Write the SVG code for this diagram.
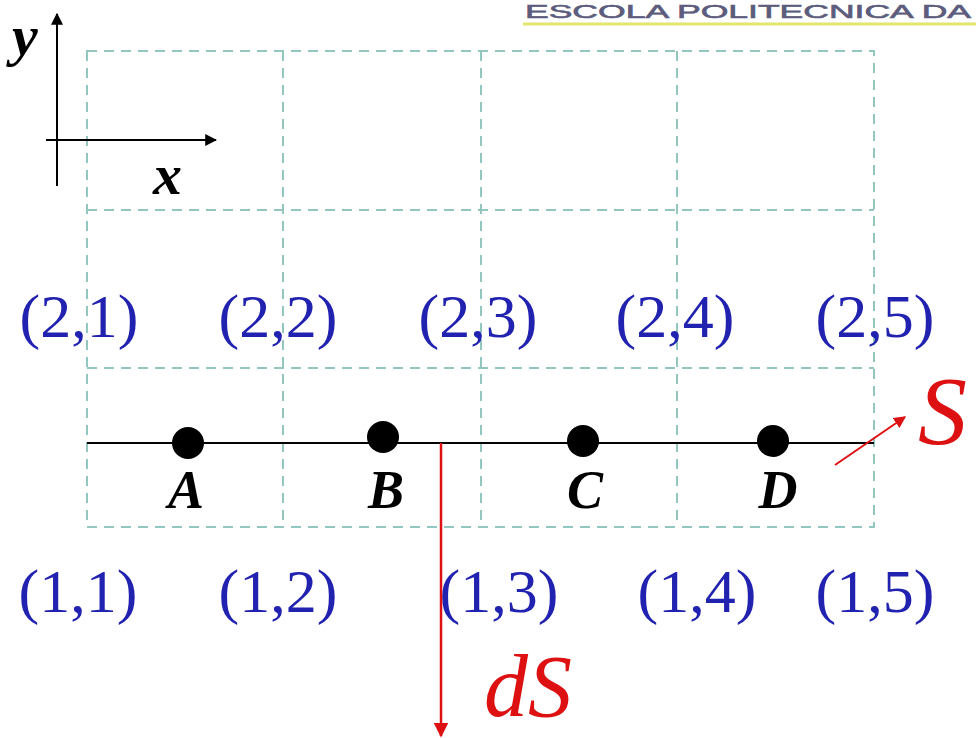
<svg xmlns="http://www.w3.org/2000/svg" width="976" height="738" viewBox="0 0 976 738">
<style>
.grid{stroke:#94c6c0;stroke-width:2;stroke-dasharray:10,7;fill:none}
.idx{font-family:"Liberation Serif","DejaVu Serif",serif;font-size:62px;fill:#2222b0;text-anchor:middle}
.pt{font-family:"Liberation Serif","DejaVu Serif",serif;font-size:54px;font-style:italic;font-weight:bold;fill:#000;text-anchor:middle}
.ax{font-family:"Liberation Serif","DejaVu Serif",serif;font-size:58px;font-style:italic;font-weight:bold;fill:#000}
.red{font-family:"Liberation Serif","DejaVu Serif",serif;font-style:italic;fill:#dd1111}
</style>
<defs>
<marker id="ak" viewBox="0 0 10 10" refX="9" refY="5" markerWidth="6" markerHeight="6" markerUnits="strokeWidth" orient="auto"><path d="M0,0 L10,5 L0,10 z" fill="#000"/></marker>
<marker id="ar" viewBox="0 0 10 10" refX="9" refY="5" markerWidth="6" markerHeight="6" markerUnits="strokeWidth" orient="auto"><path d="M0,0 L10,5 L0,10 z" fill="#dd1111"/></marker>
</defs>
<rect width="976" height="738" fill="#fff"/>
<g id="header">
<text x="525" y="18" font-family="'Liberation Sans','DejaVu Sans',sans-serif" font-size="19" fill="#5c5c7c" stroke="#5c5c7c" stroke-width="0.6" textLength="446" lengthAdjust="spacingAndGlyphs">ESCOLA POLITECNICA DA</text>
<line x1="523" y1="24" x2="976" y2="24" stroke="#e2e66c" stroke-width="3"/>
</g>
<g id="grid">
<rect class="grid" x="87" y="51" width="787" height="476"/>
<line class="grid" x1="283" y1="51" x2="283" y2="527"/>
<line class="grid" x1="481" y1="51" x2="481" y2="527"/>
<line class="grid" x1="677" y1="51" x2="677" y2="527"/>
<line class="grid" x1="87" y1="210" x2="874" y2="210"/>
<line class="grid" x1="87" y1="368" x2="874" y2="368"/>
</g>
<g id="axes">
<line x1="57" y1="186" x2="57" y2="14" stroke="#000" stroke-width="2" marker-end="url(#ak)"/>
<line x1="46" y1="140" x2="216" y2="140" stroke="#000" stroke-width="2" marker-end="url(#ak)"/>
<text class="ax" x="12" y="55">y</text>
<text class="ax" x="153" y="194">x</text>
</g>
<g id="line">
<line x1="87" y1="443" x2="874" y2="443" stroke="#000" stroke-width="2"/>
</g>
<g id="A"><circle cx="188" cy="443" r="16" fill="#000"/><text class="pt" x="186" y="508">A</text></g>
<g id="B"><circle cx="383" cy="437" r="16" fill="#000"/><text class="pt" x="386" y="508">B</text></g>
<g id="C"><circle cx="583" cy="441" r="16" fill="#000"/><text class="pt" x="585" y="508">C</text></g>
<g id="D"><circle cx="773" cy="441" r="16" fill="#000"/><text class="pt" x="778" y="508">D</text></g>
<g id="indices">
<text class="idx" x="79" y="337">(2,1)</text>
<text class="idx" x="278" y="337">(2,2)</text>
<text class="idx" x="478" y="337">(2,3)</text>
<text class="idx" x="675" y="337">(2,4)</text>
<text class="idx" x="875" y="337">(2,5)</text>
<text class="idx" x="78" y="612">(1,1)</text>
<text class="idx" x="278" y="612">(1,2)</text>
<text class="idx" x="499" y="612">(1,3)</text>
<text class="idx" x="697" y="612">(1,4)</text>
<text class="idx" x="875" y="612">(1,5)</text>
</g>
<g id="connectors">
<line x1="441" y1="443" x2="441" y2="736" stroke="#dd1111" stroke-width="2.5" marker-end="url(#ar)"/>
<line x1="835" y1="465" x2="905" y2="417" stroke="#dd1111" stroke-width="2" marker-end="url(#ar)"/>
</g>
<g id="labels">
<text class="red" x="484" y="716" font-size="88">dS</text>
<text class="red" x="918" y="444" font-size="98">S</text>
</g>
</svg>
